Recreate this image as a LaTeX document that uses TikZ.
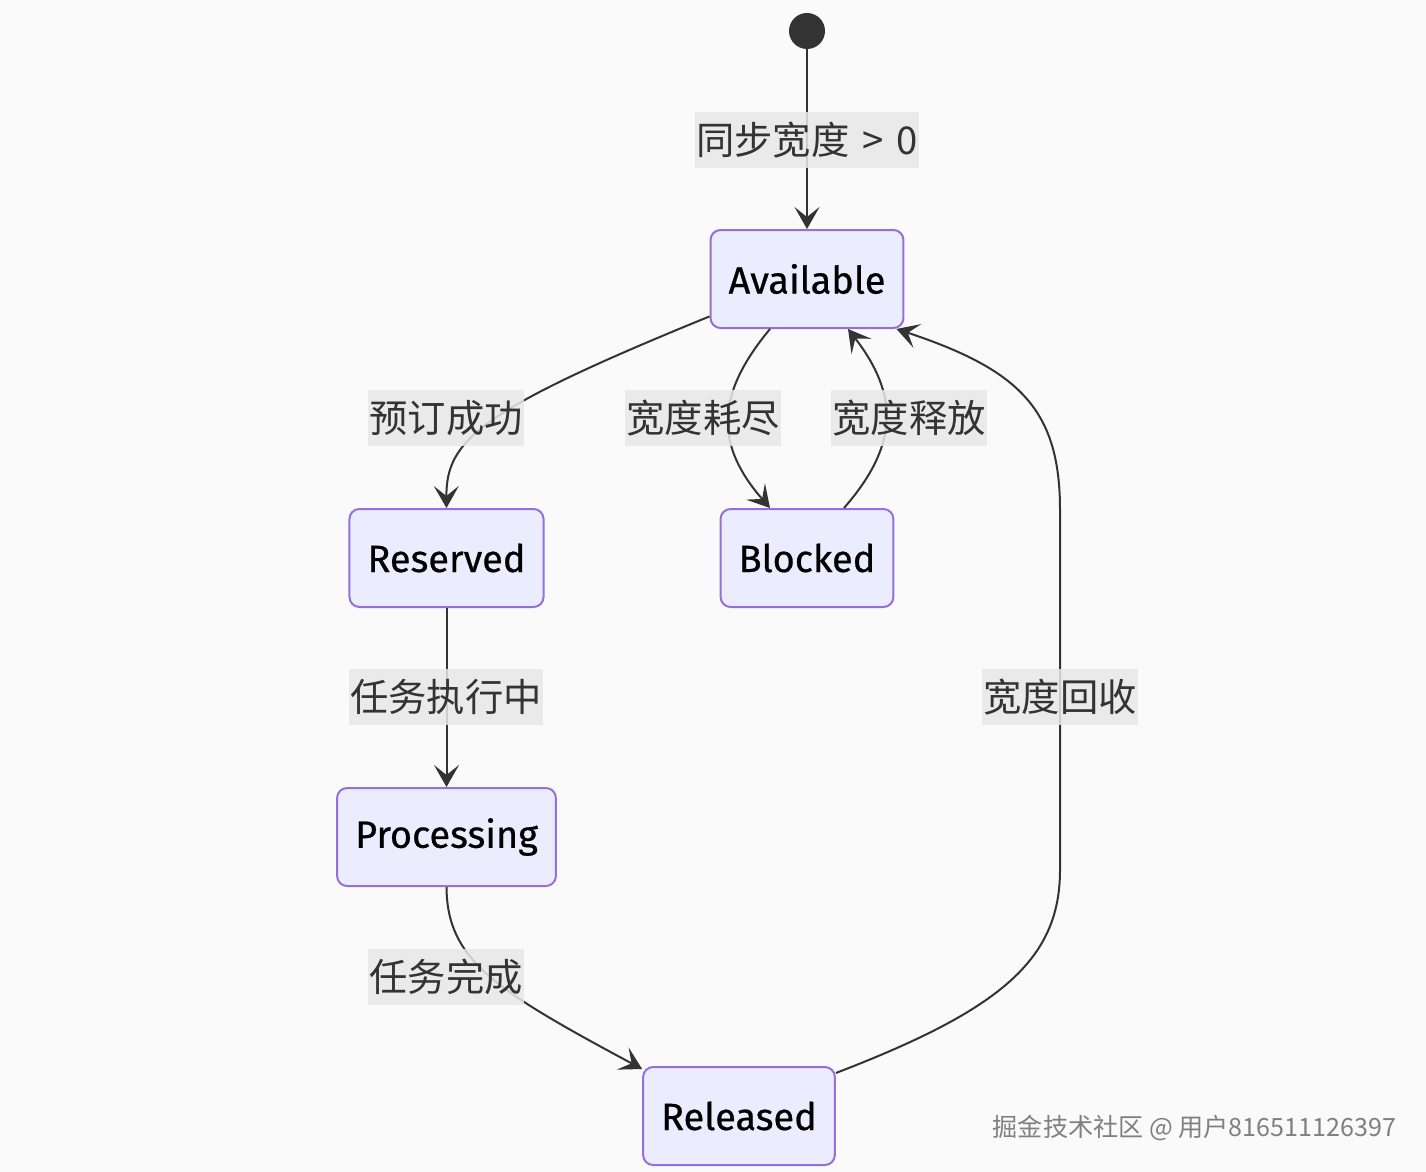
\documentclass[tikz,border=0pt]{standalone}
\usepackage{fontspec}
\setmainfont{Fira Sans}
\newfontfamily\statefont{Fira Sans}[FakeBold=0.6]
\newfontfamily\cjkfont{Noto Sans CJK SC}
\usepackage{tikz}
\usetikzlibrary{arrows.meta, positioning}

\definecolor{nodefill}{HTML}{ECECFF}
\definecolor{nodeline}{HTML}{9370DB}
\definecolor{edgeline}{HTML}{333333}
\definecolor{lblfill}{HTML}{E8E8E8}
\definecolor{pagebg}{HTML}{FAFAFA}

\begin{document}
\begin{tikzpicture}[
    node distance=3.58cm,
    state/.style={rectangle, draw=nodeline, fill=nodefill, line width=0.04cm, rounded corners=0.2cm, minimum height=1.96cm, inner xsep=0.36cm, font=\statefont\fontsize{21.6}{26}\selectfont, text=black},
    startdot/.style={circle, fill=edgeline, minimum size=0.72cm, inner sep=0pt},
    arrow/.style={-{Stealth[length=0.44cm, width=0.5cm, inset=0.2cm]}, line width=0.04cm, draw=edgeline},
    translbl/.style={fill=lblfill, fill opacity=0.85, text opacity=1, text=edgeline, inner xsep=0.02cm, minimum height=1.12cm, font=\cjkfont\fontsize{21.8}{26}\selectfont},
    mark text/.style={font=\cjkfont\fontsize{14.3}{17}\selectfont, text=black!50}
]

% Page
\fill[pagebg] (0,0) rectangle (28.52,-23.44);
\useasboundingbox (0,0) rectangle (28.52,-23.44);

% Start
\node[startdot] (start) at (16.14,-0.62) {};

% States
\node[state] (avail) at (16.14,-5.58) {Available};
\node[state, below=of avail] (blocked) {Blocked};
\node[state] (reserved) at (8.93,-11.16) {Reserved};
\node[state, below=of reserved] (processing) {Processing};
\node[state] (released) at (14.78,-22.32) {Released};

% Arrows
\draw[arrow] (start) -- (avail);
\draw[arrow] (avail.201) .. controls (9.6,-8.2) and (8.92,-8.8) .. (reserved.north);
\draw[arrow] ([xshift=-0.74cm]avail.south) .. controls (14.3,-7.9) and (14.3,-8.9) .. ([xshift=-0.74cm]blocked.north);
\draw[arrow] ([xshift=0.74cm]blocked.north) .. controls (17.98,-8.9) and (17.98,-7.9) .. ([xshift=0.82cm]avail.south);
\draw[arrow] (reserved) -- (processing);
\draw[arrow] (processing.south) .. controls (8.94,-19.2) and (9.9,-19.8) .. ([yshift=-0.06cm]released.north west);
\draw[arrow] ([yshift=-0.14cm]released.north east) .. controls (20,-20.2) and (21.2,-19.2) .. (21.2,-17.4)
    -- (21.2,-10.2) .. controls (21.2,-8.2) and (20.4,-7.4) .. ([xshift=-0.16cm]avail.south east);

% Labels
\node[translbl] (l-start) at (16.14,-2.80) {同步宽度\,\,>\,\,0};
\node[translbl] (l-book) at (8.92,-8.36) {预订成功};
\node[translbl] (l-out) at (14.06,-8.36) {宽度耗尽};
\node[translbl] (l-free) at (18.18,-8.36) {宽度释放};
\node[translbl] (l-run) at (8.92,-13.94) {任务执行中};
\node[translbl] (l-back) at (21.2,-13.94) {宽度回收};
\node[translbl] (l-done) at (8.92,-19.54) {任务完成};

% Watermark
\node[mark text] (mark) at (23.89,-22.56) {掘金技术社区 @ 用户816511126397};

\end{tikzpicture}
\end{document}
